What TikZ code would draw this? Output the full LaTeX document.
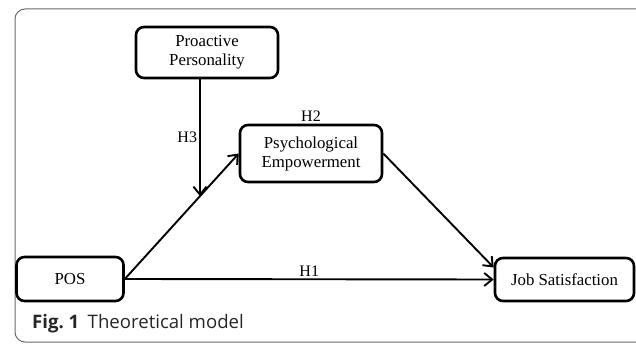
\documentclass[tikz,border=0pt]{standalone}
\usepackage{fontspec}
\setmainfont{Liberation Serif}
\newfontfamily\captionfont{Open Sans}
\usetikzlibrary{arrows.meta}

\definecolor{framegray}{HTML}{6A6A6A}
\definecolor{captiontext}{HTML}{262626}

\tikzset{
  construct/.style={draw, line width=2.6pt, rounded corners=8pt, inner sep=0pt, align=center, font=\fontsize{16.8}{19}\selectfont},
  link/.style={line width=1.9pt, -{Straight Barb[length=8pt,width=13pt,line width=1.9pt]}},
  hyp/.style={font=\fontsize{16}{18}\selectfont, inner sep=2pt},
}

\begin{document}
\begin{tikzpicture}[x=1pt,y=-1pt]
\useasboundingbox (0,0) rectangle (636,344);
\clip (0,0) rectangle (636,344);
% frame of the figure
\draw[framegray, line width=1pt, rounded corners=10pt] (15,9) rectangle (680,342);

\node[construct, minimum width=142pt, minimum height=51pt] (proactive) at (207,52.5) {Proactive\\Personality};
\node[construct, minimum width=142pt, minimum height=57pt] (psych) at (311,153.5) {Psychological\\Empowerment};
\node[construct, minimum width=107pt, minimum height=44pt] (pos) at (70,279) {POS};
\node[construct, minimum width=139pt, minimum height=43pt] (job) at (564.5,279.5) {Job Satisfaction};

\draw[link] (pos.east) -- (psych.west) coordinate[pos=0.66] (meet);
\draw[link] (pos.east) -- node[hyp, above] (h1) {H1} (job.west);
\draw[link] (psych.east) -- ([yshift=12pt]job.west);
\draw[link] (proactive.south -| meet) -- node[hyp, left] (h3) {H3} (meet);
\node[hyp, above] (h2) at (psych.north) {H2};

\node[anchor=base west, text=captiontext, inner sep=0pt, font=\captionfont\fontsize{18.6}{20}\selectfont] (caption) at (32,328) {\textbf{Fig.~1}\hspace{0.45em}Theoretical model};
\end{tikzpicture}
\end{document}
